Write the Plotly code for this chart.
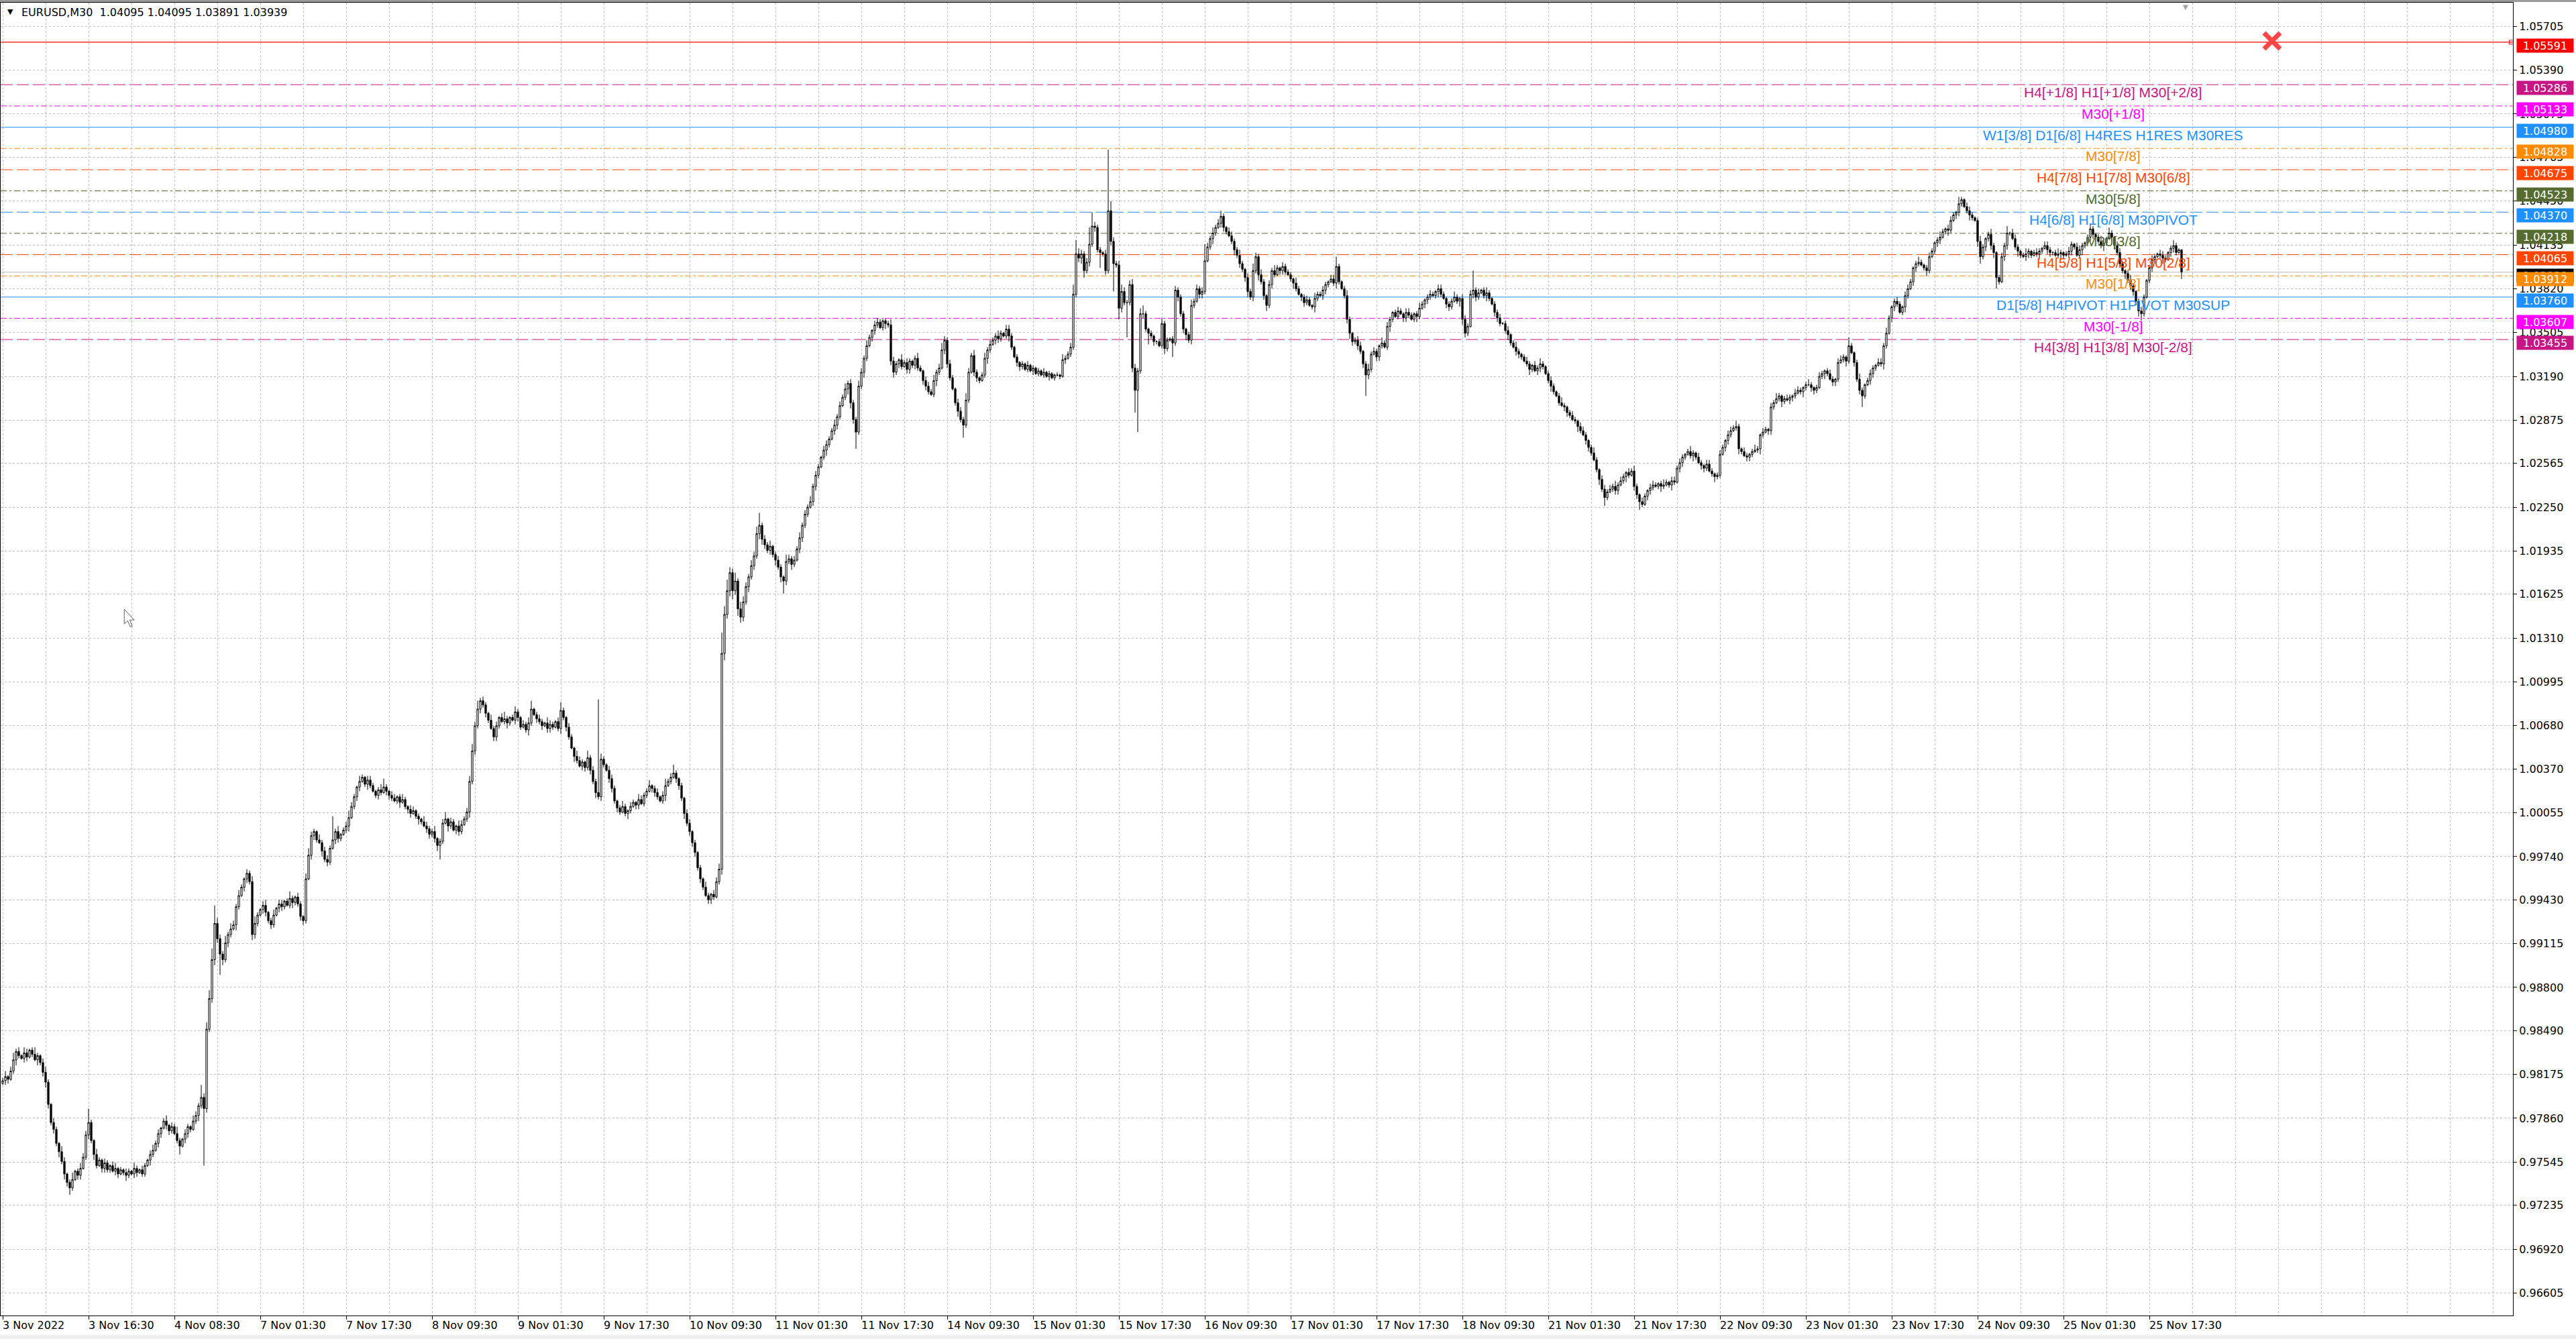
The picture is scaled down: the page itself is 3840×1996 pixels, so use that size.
import plotly.graph_objects as go

# ---------------- data (EURUSD M30, prices as pips above BASE) ----------------
BASE = 0.96
PIP = 0.0001
FIRST_OPEN = 211

CLOSE = [
    213,216,214,220,228,234,231,229,233,230,235,232,228,231,226,219,212,196,183,178,  # 0
    168,162,155,146,140,136,142,148,145,150,158,174,183,170,160,152,156,150,154,149,  # 20
    152,148,150,146,149,147,145,148,146,150,147,149,146,152,156,160,163,168,175,179,  # 40
    184,181,177,180,175,170,166,171,175,180,178,184,188,195,201,193,250,272,300,326,  # 60
    315,304,300,312,318,322,325,338,346,352,358,362,356,318,326,332,336,339,334,328,  # 80
    325,332,337,340,338,342,339,344,341,345,340,331,328,358,375,389,392,386,384,378,  # 100
    372,370,380,386,392,387,390,393,396,402,410,417,424,428,431,426,429,425,421,418,  # 120
    422,420,424,421,418,416,414,417,413,415,410,408,405,407,403,401,399,396,394,390,  # 140
    392,387,382,385,398,401,396,399,393,396,392,397,401,406,428,450,468,480,486,483,  # 160
    477,472,466,460,468,474,471,473,470,474,472,478,474,467,469,465,470,480,476,473,  # 180
    471,468,470,466,469,467,471,466,479,474,467,460,452,446,443,439,442,438,445,436,  # 200
    428,420,417,444,440,436,430,423,414,409,406,410,405,407,410,413,411,415,412,418,  # 220
    421,425,423,420,417,414,418,425,428,431,434,430,425,416,405,398,392,384,377,366,  # 240
    358,352,346,343,347,345,356,365,520,548,565,578,565,572,552,546,557,568,575,583,  # 260
    590,606,612,602,598,594,597,591,587,582,575,572,586,588,584,587,595,603,612,620,  # 280
    625,629,640,648,654,661,666,670,674,680,684,690,698,704,710,714,700,688,679,712,  # 300
    722,732,741,747,752,756,758,754,759,757,756,730,722,728,731,726,729,724,730,727,  # 320
    732,725,723,716,712,708,706,716,722,725,738,745,728,718,710,700,694,688,684,702,  # 340
    722,734,722,718,716,720,732,738,742,745,748,746,750,748,753,748,740,733,729,726,  # 360
    728,724,727,723,725,721,723,720,722,719,721,718,720,720,719,731,732,735,740,778,  # 380
    807,804,807,795,801,814,827,826,810,808,807,795,838,816,800,799,768,780,772,772,  # 400
    785,725,709,723,764,764,753,750,748,744,744,741,757,739,745,746,743,781,776,764,  # 420
    753,749,745,770,773,782,778,780,802,812,818,822,826,829,834,826,823,820,816,810,  # 440
    806,800,796,790,780,776,795,805,792,787,777,770,785,795,792,797,795,798,794,792,  # 460
    789,786,782,778,776,772,774,770,769,775,778,777,781,785,787,789,786,798,787,782,  # 480
    777,760,750,744,745,741,737,728,720,724,735,737,733,741,743,740,755,760,765,762,  # 500
    766,764,761,765,763,760,764,762,768,771,774,776,778,777,780,782,778,775,771,769,  # 520
    773,776,773,775,760,750,755,778,781,776,779,781,777,779,775,771,765,761,757,757,  # 540
    752,749,743,740,737,735,733,730,728,724,727,723,725,728,726,721,716,712,708,705,  # 560
    700,698,697,693,691,688,687,683,680,677,673,668,664,659,652,645,638,632,636,638,  # 580
    640,637,641,644,647,650,648,651,640,634,629,627,633,637,639,641,640,642,640,641,  # 600
    643,641,644,643,653,657,661,663,665,662,664,661,657,655,653,656,651,649,647,648,  # 620
    663,668,673,677,680,682,683,667,665,662,661,663,665,666,667,677,679,681,680,697,  # 640
    700,703,705,701,703,702,704,705,707,709,708,711,713,713,711,709,711,719,721,723,  # 660
    721,717,715,717,729,731,733,730,741,736,729,717,709,705,713,716,721,725,727,729,  # 680
    728,741,750,761,769,773,771,765,769,777,782,787,797,800,801,799,797,795,805,809,  # 700
    815,817,819,823,825,824,831,835,837,843,846,841,838,835,833,831,816,805,812,818,  # 720
    821,813,808,790,787,805,813,822,822,818,812,809,806,805,807,809,806,808,807,809,  # 740
    811,813,810,808,808,806,807,808,806,807,809,814,812,806,810,813,815,819,825,821,  # 760
    819,816,813,815,818,822,819,813,808,800,795,793,788,784,780,773,766,764,776,788,  # 780
    797,803,805,807,806,804,803,808,811,813,808,810,794,                              # 800
]

# upper wick length (pips above the body)
UPW = [
    2,4,1,3,5,2,3,1,4,3,1,2,5,2,1,3,4,2,1,3,
    2,1,4,3,1,2,5,1,2,4,3,3,10,2,1,4,2,1,3,2,
    1,3,4,1,2,1,3,2,1,4,2,1,3,2,1,3,4,2,3,1,
    2,4,1,3,2,5,2,1,3,2,1,4,3,2,9,3,5,6,8,13,
    4,3,2,5,2,4,3,2,4,2,1,3,2,4,5,2,1,3,4,1,
    2,4,1,3,3,1,2,5,2,1,3,2,1,4,5,3,2,1,4,2,
    3,3,2,17,2,4,1,2,3,5,3,2,1,4,2,1,3,3,2,1,
    2,4,6,2,1,3,3,1,2,4,2,1,3,3,1,2,1,4,3,2,
    2,4,1,2,3,5,1,3,2,1,4,3,2,3,4,5,3,6,2,3,
    2,1,4,2,3,1,3,5,2,1,2,4,2,1,3,2,4,6,1,2,
    3,2,1,4,3,2,1,3,6,2,1,3,2,1,4,3,2,1,5,2,
    3,2,67,4,2,1,3,3,2,1,2,4,2,1,3,2,1,4,3,2,
    2,4,1,2,3,1,3,5,2,3,6,2,1,2,1,3,3,1,2,1,
    2,1,4,2,1,3,3,4,15,6,8,4,3,6,2,5,4,3,2,4,
    3,5,9,2,3,2,4,1,2,3,2,1,5,3,2,3,2,4,2,3,
    2,4,2,3,2,1,3,3,2,2,4,2,3,2,4,2,3,2,2,4,
    3,2,4,2,1,3,3,2,1,2,2,4,3,2,1,4,2,3,2,1,
    2,4,2,1,3,3,2,4,2,3,5,3,2,3,2,1,3,3,2,5,
    3,2,4,2,1,2,4,2,3,2,2,4,2,1,3,3,2,1,2,1,
    2,1,3,1,2,1,2,1,3,1,2,1,1,2,1,4,2,2,3,7,
    10,4,3,2,3,12,10,3,2,2,1,3,44,7,3,2,3,5,3,2,
    3,4,3,2,4,6,2,1,2,1,1,2,4,2,2,1,2,3,2,2,
    2,1,2,4,2,3,2,3,12,3,2,4,2,3,4,2,1,3,3,2,
    2,4,2,1,3,2,5,3,2,4,2,1,3,2,4,2,1,3,2,2,
    2,1,4,2,1,2,3,2,1,4,2,2,3,2,1,3,3,7,2,1,
    2,4,2,1,2,3,3,1,2,4,2,3,2,1,4,2,3,2,1,2,
    3,2,1,3,3,2,1,2,4,2,1,2,3,2,1,3,3,2,1,2,
    2,4,2,1,3,3,2,3,14,2,3,1,2,4,2,1,2,2,3,1,
    2,3,1,2,4,2,1,2,3,2,1,3,2,4,2,1,2,3,2,1,
    2,4,2,1,2,3,2,1,3,3,2,1,2,4,2,1,3,3,2,3,
    2,4,2,3,2,1,3,2,4,2,1,3,2,1,3,3,2,1,2,4,
    2,1,3,3,2,3,2,1,2,4,2,1,3,2,1,3,3,2,1,2,
    3,2,1,3,3,2,4,2,1,3,2,1,2,4,2,1,3,2,1,3,
    2,4,2,1,2,3,2,1,3,3,2,1,2,4,2,1,2,3,2,1,
    2,3,2,1,3,3,2,1,6,2,1,2,4,2,1,2,3,2,1,3,
    3,2,4,2,1,2,3,2,1,3,3,2,1,2,4,2,1,2,3,2,
    1,2,4,2,1,3,3,2,1,5,2,1,3,3,2,1,2,4,2,1,
    2,4,2,1,2,3,2,5,1,3,3,2,1,2,4,2,1,2,3,2,
    1,3,3,2,1,2,4,2,1,2,3,2,1,3,3,2,1,2,4,2,
    1,2,4,2,1,4,2,1,3,3,2,1,2,4,2,1,2,3,2,1,
    2,3,2,1,3,3,2,1,2,4,2,1,0,
]

# lower wick length (pips below the body)
DNW = [
    1,3,3,1,2,4,2,1,3,3,1,2,1,4,2,3,4,3,2,3,
    2,4,2,4,3,5,2,1,3,3,1,2,3,2,4,2,1,3,3,2,
    2,1,3,3,1,2,4,2,1,3,3,1,2,2,1,4,2,1,3,3,
    1,3,3,2,1,2,6,1,3,3,2,1,2,4,2,41,3,2,3,4,
    3,15,4,2,3,2,1,4,2,1,3,3,2,4,3,2,1,3,3,2,
    3,2,1,3,3,2,1,2,4,2,2,3,3,2,1,3,3,2,1,4,
    2,3,2,1,3,3,2,1,2,4,1,2,3,3,1,2,4,2,1,2,
    3,2,1,3,3,2,1,2,4,1,2,3,3,1,2,4,2,1,3,3,
    2,3,4,10,2,1,4,2,1,3,3,2,1,2,4,2,3,2,3,2,
    3,2,1,3,3,2,1,2,4,2,1,3,3,2,1,2,4,2,1,3,
    2,3,1,3,3,2,1,2,4,2,3,2,1,4,2,1,3,3,2,3,
    2,4,2,3,2,1,3,3,2,3,2,1,2,4,2,1,3,3,1,2,
    2,1,3,3,2,1,2,4,1,2,1,3,3,2,4,2,3,3,3,2,
    3,2,1,3,3,2,1,2,4,5,3,4,6,3,5,4,3,2,4,2,
    3,2,4,4,3,2,3,2,4,2,4,9,3,2,4,2,1,3,3,2,
    2,1,3,3,2,1,2,4,2,1,3,3,2,1,2,4,4,3,12,2,
    2,4,2,1,3,3,2,1,2,4,2,3,4,2,3,2,1,3,3,2,
    3,2,1,3,3,2,1,2,4,2,1,3,3,2,1,2,4,2,9,2,
    2,1,3,3,2,1,2,4,2,1,3,3,2,1,2,4,2,1,3,3,
    2,1,2,1,3,1,2,1,2,1,3,1,2,1,2,1,3,1,2,2,
    2,3,4,5,2,3,2,3,2,11,2,3,2,3,20,2,8,3,2,25,
    2,3,16,30,2,3,2,8,2,3,2,1,2,4,2,1,10,2,3,2,
    3,4,2,3,2,1,3,3,2,1,2,4,2,1,3,3,2,1,2,4,
    2,3,2,3,4,2,3,2,4,2,3,4,2,3,2,1,3,3,2,1,
    2,4,2,1,3,3,2,1,2,4,2,1,3,3,2,1,2,4,2,1,
    2,3,4,3,2,3,2,3,15,3,2,1,3,3,2,1,2,4,2,1,
    2,1,3,3,2,1,2,4,2,1,3,3,2,1,2,4,2,1,3,3,
    2,1,2,4,4,3,2,1,3,3,2,1,2,4,2,1,3,3,2,1,
    2,4,2,1,3,3,2,1,2,4,2,1,3,3,2,1,2,4,2,1,
    2,1,3,3,2,1,2,4,2,1,3,3,2,1,2,4,2,6,2,1,
    2,3,3,1,2,4,2,1,3,3,6,2,1,3,3,2,1,2,4,2,
    1,2,4,2,1,3,3,2,1,2,4,2,1,3,3,2,1,2,4,2,
    2,1,3,3,2,1,2,4,2,1,3,3,2,1,2,4,2,1,3,3,
    2,1,2,4,2,1,3,3,2,1,2,4,2,1,3,3,2,1,2,4,
    2,1,3,3,2,1,2,4,2,1,3,2,3,8,2,1,3,3,2,1,
    2,4,2,1,3,3,2,1,2,4,2,1,3,3,2,1,2,4,2,1,
    2,3,3,1,2,4,2,1,3,3,2,1,2,4,2,1,4,5,2,3,
    2,3,4,8,2,1,3,3,2,1,2,4,2,1,3,3,2,1,2,4,
    2,1,3,3,2,1,2,4,2,1,3,3,2,1,2,4,2,1,3,3,
    2,1,2,4,2,1,3,3,2,3,2,4,2,3,3,3,4,5,2,1,
    2,3,3,1,2,4,2,1,3,3,2,1,5,
]

TIME_LABELS = [
    "3 Nov 2022", "3 Nov 16:30", "4 Nov 08:30", "7 Nov 01:30", "7 Nov 17:30",
    "8 Nov 09:30", "9 Nov 01:30", "9 Nov 17:30", "10 Nov 09:30", "11 Nov 01:30",
    "11 Nov 17:30", "14 Nov 09:30", "15 Nov 01:30", "15 Nov 17:30", "16 Nov 09:30",
    "17 Nov 01:30", "17 Nov 17:30", "18 Nov 09:30", "21 Nov 01:30", "21 Nov 17:30",
    "22 Nov 09:30", "23 Nov 01:30", "23 Nov 17:30", "24 Nov 09:30", "25 Nov 01:30",
    "25 Nov 17:30",
]
BARS_PER_LABEL = 32
BARS_PER_GRID = 16

PRICE_TICKS = [
    1.05705, 1.05390, 1.05075, 1.04765, 1.04450, 1.04135, 1.03820, 1.03505,
    1.03190, 1.02875, 1.02565, 1.02250, 1.01935, 1.01625, 1.01310, 1.00995,
    1.00680, 1.00370, 1.00055, 0.99740, 0.99430, 0.99115, 0.98800, 0.98490,
    0.98175, 0.97860, 0.97545, 0.97235, 0.96920, 0.96605,
]

LEVEL_PRICES = [1.05286, 1.05133, 1.04980, 1.04828, 1.04675, 1.04523, 1.04370,
                1.04218, 1.04065, 1.03912, 1.03760, 1.03607, 1.03455]
LEVEL_NAMES = [
    "H4[+1/8] H1[+1/8] M30[+2/8]", "M30[+1/8]", "W1[3/8] D1[6/8] H4RES H1RES M30RES",
    "M30[7/8]", "H4[7/8] H1[7/8] M30[6/8]", "M30[5/8]", "H4[6/8] H1[6/8] M30PIVOT",
    "M30[3/8]", "H4[5/8] H1[5/8] M30[2/8]", "M30[1/8]", "D1[5/8] H4PIVOT H1PIVOT M30SUP",
    "M30[-1/8]", "H4[3/8] H1[3/8] M30[-2/8]",
]
LEVEL_COLORS = ["#C71585", "#FF00FF", "#1E90FF", "#FF8C00", "#FF4500", "#556B2F", "#1E90FF",
                "#556B2F", "#FF4500", "#FF8C00", "#1E90FF", "#FF00FF", "#C71585"]
LEVEL_STYLES = ["dash", "dashdot", "solid", "dashdot", "dash", "dashdot", "dash",
                "dashdot", "dash", "dashdot", "solid", "dashdot", "dash"]
LEVEL_LABEL_BAR = 786.5

ALERT_PRICE = 1.05591
ALERT_COLOR = "#FF0000"
BID_PRICE = 1.03939
LAST_QUOTE = [1.04095, 1.04095, 1.03891, 1.03939]
SYMBOL = "EURUSD,M30"
CLOSE_MARK = (845.75, 1.05600)
CURSOR_AT = (45.3, 1.01517)

# ---------------- layout geometry ----------------
W, H = 3840, 1996
ML, MR, MT, MB = 1, 94, 4, 35
Y_RANGE = [0.96443, 1.05875]
X_RANGE = [-0.75, 935.5]
GRID = "#C0C0C0"
GRID_DASH = "3px,3px"
DASHES = {"dash": "18px,6px", "dashdot": "9px,4px,3px,4px", "solid": "solid"}
AX_FONT = dict(family="DejaVu Sans, Verdana, sans-serif", size=16, color="black")

assert len(CLOSE) == len(UPW) == len(DNW), (len(CLOSE), len(UPW), len(DNW))

n = len(CLOSE)
bars = list(range(n))
opens = [FIRST_OPEN] + CLOSE[:-1]


def price(v):
    return round(BASE + v * PIP, 5)


O = [price(v) for v in opens]
C = [price(v) for v in CLOSE]
HI = [price(max(o, c) + u) for o, c, u in zip(opens, CLOSE, UPW)]
LO = [price(min(o, c) - d) for o, c, d in zip(opens, CLOSE, DNW)]

fig = go.Figure()
fig.add_trace(go.Candlestick(
    x=bars, open=O, high=HI, low=LO, close=C,
    increasing=dict(line=dict(color="black", width=1), fillcolor="white"),
    decreasing=dict(line=dict(color="black", width=1), fillcolor="black"),
    whiskerwidth=0, showlegend=False, hoverinfo="skip",
))

# close-all cross marker and alert end square
fig.add_trace(go.Scatter(
    x=[CLOSE_MARK[0]], y=[CLOSE_MARK[1]], mode="markers",
    marker=dict(symbol="x-thin", size=24, color="#FF4545", line=dict(width=7, color="#FF4545")),
    showlegend=False, hoverinfo="skip", cliponaxis=False,
))
fig.add_trace(go.Scatter(
    x=[X_RANGE[1] - 0.6], y=[ALERT_PRICE], mode="markers",
    marker=dict(symbol="square-open", size=6, color=ALERT_COLOR, line=dict(width=1, color=ALERT_COLOR)),
    showlegend=False, hoverinfo="skip", cliponaxis=False,
))

shapes = []
annotations = []

# level lines
shapes.append(dict(type="line", xref="paper", x0=0, x1=1, yref="y", y0=ALERT_PRICE, y1=ALERT_PRICE,
                   line=dict(color=ALERT_COLOR, width=1.2), layer="between"))
shapes.append(dict(type="line", xref="paper", x0=0, x1=1, yref="y", y0=BID_PRICE, y1=BID_PRICE,
                   line=dict(color="#B4B4B4", width=1), layer="between"))
for p, col, st in zip(LEVEL_PRICES, LEVEL_COLORS, LEVEL_STYLES):
    shapes.append(dict(type="line", xref="paper", x0=0, x1=1, yref="y", y0=p, y1=p,
                       line=dict(color=col, width=1, dash=DASHES[st]), layer="between"))

# window frame bands
shapes.append(dict(type="rect", xref="paper", yref="paper", x0=-0.01, x1=1.05,
                   y0=1 + 1 / 1957, y1=1 + 5 / 1957, fillcolor="#9A9A9A", line=dict(width=0)))
shapes.append(dict(type="rect", xref="paper", yref="paper", x0=-0.01, x1=1.05,
                   y0=-35 / 1957, y1=-29 / 1957, fillcolor="#EFEFEF", line=dict(width=0)))

# mouse cursor left on the chart
shapes.append(dict(type="path", xref="x", yref="y", xsizemode="pixel", ysizemode="pixel",
                   xanchor=CURSOR_AT[0], yanchor=CURSOR_AT[1],
                   path="M0,0 L0,-22 L5,-17 L9,-26 L12,-25 L8,-16 L15,-16 Z",
                   fillcolor="white", line=dict(color="#606060", width=1)))

# level names
for p, col, name in zip(LEVEL_PRICES, LEVEL_COLORS, LEVEL_NAMES):
    annotations.append(dict(x=LEVEL_LABEL_BAR, y=p, xref="x", yref="y", text=name, showarrow=False,
                            xanchor="center", yanchor="top", yshift=2,
                            font=dict(family="Liberation Sans, Arial, sans-serif", size=21, color=col)))


def price_box(p, col):
    return dict(x=1, y=p, xref="paper", yref="y", text=f"{p:.5f}", showarrow=False,
                xanchor="left", yanchor="middle", xshift=5, yshift=-5,
                width=84, height=20, borderpad=0, bgcolor=col, align="center",
                font=dict(family="DejaVu Sans, Verdana, sans-serif", size=16, color="white"))


annotations.append(price_box(BID_PRICE, "#000000"))
annotations.append(price_box(ALERT_PRICE, ALERT_COLOR))
for p, col in zip(LEVEL_PRICES, LEVEL_COLORS):
    annotations.append(price_box(p, col))

# time labels (left aligned at their tick)
label_pos = [k * BARS_PER_LABEL for k in range(len(TIME_LABELS))]
for pos, txt in zip(label_pos, TIME_LABELS):
    annotations.append(dict(x=pos, y=0, xref="x", yref="paper", text=txt, showarrow=False,
                            xanchor="left", yanchor="top", xshift=-2, yshift=-3, font=AX_FONT))

# title
title_txt = SYMBOL + "\u00a0\u00a0" + " ".join(f"{v:.5f}" for v in LAST_QUOTE)
annotations.append(dict(x=0, y=1, xref="paper", yref="paper", text="\u25bc", showarrow=False,
                        xanchor="left", yanchor="top", xshift=8, yshift=-5,
                        font=dict(family="DejaVu Sans", size=11, color="black")))
annotations.append(dict(x=0, y=1, xref="paper", yref="paper", text=title_txt, showarrow=False,
                        xanchor="left", yanchor="top", xshift=29, yshift=-3, font=AX_FONT))
# chart-shift marker
annotations.append(dict(x=n + 0.5, y=1, xref="x", yref="paper", text="\u25bc", showarrow=False,
                        xanchor="center", yanchor="top", yshift=1,
                        font=dict(family="DejaVu Sans", size=10, color="#A0A0A0")))

grid_pos = [k * BARS_PER_GRID for k in range(int(X_RANGE[1] // BARS_PER_GRID) + 1)]

fig.update_layout(
    width=W, height=H, autosize=False,
    margin=dict(l=ML, r=MR, t=MT, b=MB, pad=0),
    paper_bgcolor="white", plot_bgcolor="white",
    showlegend=False, hovermode=False,
    boxgap=0.25, boxgroupgap=0.25,
    shapes=shapes, annotations=annotations,
    xaxis=dict(
        range=X_RANGE, tickmode="array", tickvals=label_pos, showticklabels=False,
        ticks="outside", ticklen=5, tickcolor="black", tickwidth=1,
        showline=True, linecolor="black", linewidth=1, mirror=True,
        showgrid=True, gridcolor=GRID, griddash=GRID_DASH, gridwidth=1,
        minor=dict(tickmode="array", tickvals=grid_pos, showgrid=True, gridcolor=GRID,
                   griddash=GRID_DASH, gridwidth=1, ticks=""),
        rangeslider=dict(visible=False), zeroline=False, fixedrange=True,
    ),
    yaxis=dict(
        side="right", range=Y_RANGE, tickmode="array", tickvals=PRICE_TICKS,
        ticktext=[f"{v:.5f}" for v in PRICE_TICKS],
        ticks="outside", ticklen=5, tickcolor="black", tickwidth=1,
        showline=True, linecolor="black", linewidth=1, mirror=True,
        showgrid=True, gridcolor=GRID, griddash=GRID_DASH, gridwidth=1,
        tickfont=AX_FONT, zeroline=False, fixedrange=True,
    ),
)

fig.write_html("out.html", config={"displayModeBar": False},
               post_script="document.body.style.margin='0';document.body.style.overflow='hidden';")
